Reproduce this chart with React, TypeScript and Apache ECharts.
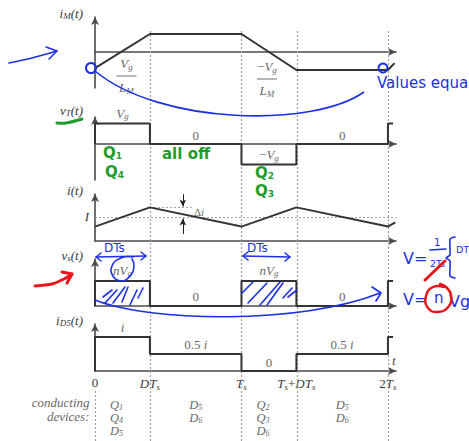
import { useEffect, useRef } from 'react';
import * as echarts from 'echarts';

// Switching period is normalised to 1 (T_s); duty cycle D.
const DUTY = 0.375;
const X_END = 2.055;

const switchTimes = [0, DUTY, 1, 1 + DUTY, 2];
const timeTickLabels = ['{n|0}', '{i|DT}{s|s}', '{i|T}{s|s}', '{i|T}{s|s}{n|+}{i|DT}{s|s}', '{n|2}{i|T}{s|s}'];

// Waveforms, [t / Ts, normalised value]
const magnetizingCurrent = [[0, -0.9], [DUTY, 1], [1, 1], [1 + DUTY, -1], [2, -1], [2.045, -0.62]];
const transformerVoltage = [[0, 0], [0, 1], [DUTY, 1], [DUTY, 0], [1, 0], [1, -1], [1 + DUTY, -1], [1 + DUTY, 0], [2, 0], [2, 1], [2.035, 1]];
const inductorCurrent = [[0, 0.6], [DUTY, 1.4], [1, 0.6], [1 + DUTY, 1.4], [2, 0.6], [2.05, 0.78]];
const secondaryVoltage = [[0, 0], [0, 1], [DUTY, 1], [DUTY, 0], [1, 0], [1, 1], [1 + DUTY, 1], [1 + DUTY, 0], [2, 0], [2, 1], [2.035, 1]];
const diodeCurrent = [[0, 0], [0, 1], [DUTY, 1], [DUTY, 0.5], [1, 0.5], [1, 0], [1 + DUTY, 0], [1 + DUTY, 0.5], [2, 0.5], [2, 1], [2.035, 1]];
const averageCurrent = 1;
const currentPeak = 1.4;

const panelNames = ['{i|i}{s|M}{i|(t)}', '{i|v}{s|T}{i|(t)}', '{i|i(t)}', '{i|v}{s|s}{i|(t)}', '{i|i}{s|D5}{i|(t)}'];

// [interval index, level, text]
const slopeLabels: [number, number, string][] = [
  [0, -1, '{i|V}{s|g}\n{bar|}\n{i|L}{s|M}'],
  [2, -1, '{n|−}{i|V}{s|g}\n{bar|}\n{i|L}{s|M}'],
];
const transformerLabels: [number, number, string][] = [
  [0, 1, '{i|V}{s|g}'], [1, 0, '{n|0}'], [2, -1, '{n|−}{i|V}{s|g}'], [3, 0, '{n|0}'],
];
const secondaryLabels: [number, number, string][] = [
  [0, 1, '{i|nV}{s|g}'], [1, 0, '{n|0}'], [2, 1, '{i|nV}{s|g}'], [3, 0, '{n|0}'],
];
const diodeLabels: [number, number, string][] = [
  [0, 1, '{i|i}'], [1, 0.5, '{n|0.5 }{i|i}'], [2, 0, '{n|0}'], [3, 0.5, '{n|0.5 }{i|i}'],
];
const conductingDevices = [['Q1', 'Q4', 'D5'], ['D5', 'D6'], ['Q2', 'Q3', 'D6'], ['D5', 'D6']];

const SERIF = '"Liberation Serif", "DejaVu Serif", serif';
const HAND = '"DejaVu Sans", sans-serif';
const TEXT = '#3a3a3a';
const WAVE = '#333';
const AXIS = '#4a4a4a';
const DOT = '#a0a0a0';
const BLUE = '#1b2fe4';
const GREEN = '#1f9c2c';
const RED = '#e8161b';

const rich: any = {
  i: { fontFamily: SERIF, fontStyle: 'italic', fontSize: 13, color: TEXT },
  s: { fontFamily: SERIF, fontStyle: 'italic', fontSize: 9, color: TEXT, padding: [6, 0, 0, 0] },
  n: { fontFamily: SERIF, fontSize: 13, color: TEXT },
  bar: { borderColor: '#555', width: 20, borderWidth: 0.6, height: 0 },
  d: { fontFamily: SERIF, fontStyle: 'italic', fontSize: 12.5, color: TEXT, lineHeight: 13 },
  ds: { fontFamily: SERIF, fontStyle: 'italic', fontSize: 8, color: TEXT, padding: [5, 0, 0, 0], lineHeight: 13 },
  c: { fontFamily: SERIF, fontStyle: 'italic', fontSize: 13, color: TEXT, lineHeight: 14, align: 'right' },
};

const panels = [
  { top: 17, height: 71, min: -2, max: 1.944, data: magnetizingCurrent },
  { top: 117, height: 63, min: -1.756, max: 1.317, data: transformerVoltage },
  { top: 194, height: 47, min: 0, max: 1.958, data: inductorCurrent },
  { top: 259, height: 47, min: 0, max: 1.88, data: secondaryVoltage },
  { top: 324, height: 47, min: 0, max: 1.382, data: diodeCurrent },
];

const mid = (k: number) => (switchTimes[k] + switchTimes[k + 1]) / 2;

const hand = (points: number[][], color: string, lineWidth = 2, smooth = 0.3) => ({
  type: 'polyline',
  shape: { points, smooth },
  style: { stroke: color, fill: 'none', lineWidth, lineCap: 'round', lineJoin: 'round' },
  silent: true,
  z: 100,
});
const handText = (x: number, y: number, text: string, color: string, fontSize: number, extra: any = {}) => ({
  type: 'text',
  x,
  y,
  silent: true,
  z: 100,
  style: { text, fill: color, fontSize, fontFamily: HAND, verticalAlign: 'middle', align: 'left', ...extra },
});
const hatch = (segs: number[][]) => segs.map((s) => hand([[s[0], s[1]], [s[2], s[3]]], BLUE, 1.6, 0));
const greenSub = {
  a: { fontSize: 15, fontWeight: 'bold', fontFamily: HAND, fill: GREEN },
  b: { fontSize: 9, fontWeight: 'bold', fontFamily: HAND, fill: GREEN, padding: [6, 0, 0, 0] },
};

function buildOption() {
  const grid: any[] = panels.map((p) => ({ left: 95, right: 73, top: p.top, height: p.height, outerBoundsMode: 'none' }));
  grid.push({ left: 95, right: 73, top: 29, bottom: 0, outerBoundsMode: 'none' });
  grid.push({ left: 95, right: 73, top: 390, bottom: 0, outerBoundsMode: 'none' });

  const arrowLine = { show: true, symbol: ['none', 'arrow'], symbolSize: [6, 8], lineStyle: { color: AXIS, width: 1.6 } };

  const xAxis: any[] = panels.map((_, k) => ({
    type: 'value',
    gridIndex: k,
    min: 0,
    max: X_END,
    axisLine: arrowLine,
    axisTick: { show: false },
    splitLine: { show: false },
    axisLabel:
      k === panels.length - 1
        ? {
            show: true,
            customValues: switchTimes,
            margin: 5,
            color: TEXT,
            rich,
            formatter: (v: number) => timeTickLabels[switchTimes.findIndex((t) => Math.abs(t - v) < 1e-6)] ?? '',
          }
        : { show: false },
    name: k === panels.length - 1 ? 't' : '',
    nameLocation: 'end',
    nameGap: -2,
    nameTextStyle: { fontFamily: SERIF, fontStyle: 'italic', fontSize: 12, color: TEXT, align: 'center', verticalAlign: 'bottom', padding: [0, 0, 4, 0] },
  }));
  for (const gi of [5, 6]) {
    xAxis.push({ type: 'value', gridIndex: gi, min: 0, max: X_END, show: false });
  }

  const yAxis: any[] = panels.map((p, k) => ({
    type: 'value',
    gridIndex: k,
    min: p.min,
    max: p.max,
    axisLine: arrowLine,
    axisTick: { show: false },
    splitLine: { show: false },
    axisLabel:
      k === 2
        ? { show: true, customValues: [averageCurrent], margin: 6, color: TEXT, formatter: () => '{i|I}', rich }
        : { show: false },
    name: panelNames[k],
    nameLocation: 'end',
    nameGap: 0,
    nameTextStyle: { color: TEXT, align: 'right', verticalAlign: 'middle', padding: [0, 12, k === 1 ? 14 : 8, 0], rich },
  }));
  yAxis.push({ type: 'value', gridIndex: 5, min: 0, max: 1, show: false });
  yAxis.push({ type: 'value', gridIndex: 6, min: 0, max: 1, show: false });

  const series: any[] = [];
  panels.forEach((p, k) => {
    series.push({
      type: 'line',
      xAxisIndex: k,
      yAxisIndex: k,
      data: p.data,
      showSymbol: false,
      silent: true,
      z: 5,
      lineStyle: { color: WAVE, width: 2 },
    });
  });

  const labelSeries = (k: number, items: [number, number, string][], label: any) => ({
    type: 'scatter',
    xAxisIndex: k,
    yAxisIndex: k,
    symbolSize: 1,
    silent: true,
    itemStyle: { color: 'transparent' },
    data: items.map(([seg, level, text]) => ({ name: text, value: [mid(seg), level] })),
    label: { show: true, color: TEXT, formatter: (q: any) => q.name, rich, ...label },
    z: 6,
  });

  // slope annotations on the magnetizing current
  series.push({
    ...labelSeries(0, slopeLabels, { position: 'inside', align: 'center', lineHeight: 12 }),
    data: slopeLabels.map(([seg, level, text], j) => ({ name: text, value: [mid(seg), level], label: { offset: [j === 0 ? 4 : -2, j === 0 ? 6 : 9] } })),
  });
  series.push(labelSeries(1, transformerLabels, { position: 'top', distance: 2 }));
  series.push(labelSeries(3, secondaryLabels, { position: 'top', distance: 3 }));
  series.push(labelSeries(4, diodeLabels, { position: 'top', distance: 2 }));

  // inductor current: average line, ripple markers
  series.push({
    type: 'scatter',
    xAxisIndex: 2,
    yAxisIndex: 2,
    symbolSize: 1,
    silent: true,
    itemStyle: { color: 'transparent' },
    data: [{ name: '{n|Δ}{i|i}', value: [0.71, (averageCurrent + currentPeak) / 2] }],
    label: { show: true, color: TEXT, position: 'inside', formatter: (q: any) => q.name, rich: { ...rich, n: { ...rich.n, fontSize: 11 }, i: { ...rich.i, fontSize: 11 } } },
    markLine: {
      silent: true,
      animation: false,
      label: { show: false },
      lineStyle: { color: DOT, type: [2, 2], width: 1 },
      symbol: ['none', 'none'],
      data: [
        [{ coord: [0, averageCurrent] }, { coord: [X_END, averageCurrent] }],
        [{ coord: [DUTY, currentPeak] }, { coord: [0.66, currentPeak] }],
        [
          { coord: [0.6, 1.95], symbol: 'none', lineStyle: { color: '#222', type: 'solid', width: 1 } },
          { coord: [0.6, currentPeak + 0.04], symbol: 'arrow', symbolSize: [5, 7] },
        ],
        [
          { coord: [0.6, 0.29], symbol: 'none', lineStyle: { color: '#222', type: 'solid', width: 1 } },
          { coord: [0.6, averageCurrent - 0.06], symbol: 'arrow', symbolSize: [5, 7] },
        ],
      ],
    },
    z: 2,
  });

  // dotted switching instants across all panels
  series.push({
    type: 'scatter',
    xAxisIndex: 5,
    yAxisIndex: 5,
    data: [],
    silent: true,
    markLine: {
      silent: true,
      animation: false,
      symbol: ['none', 'none'],
      label: { show: false },
      lineStyle: { color: DOT, type: [2, 2], width: 1.2 },
      data: switchTimes.slice(1).map((t) => ({ xAxis: t })),
    },
    z: 1,
  });

  // conducting devices table
  series.push({
    type: 'scatter',
    xAxisIndex: 6,
    yAxisIndex: 6,
    symbolSize: 1,
    silent: true,
    itemStyle: { color: 'transparent' },
    data: [
      ...conductingDevices.map((col, k) => ({
        name: col.map((d) => `{d|${d[0]}}{ds|${d.slice(1)}}`).join('\n'),
        value: [mid(k) - (col.length === 3 ? 0.04 : 0), 0.84],
      })),
      { name: '{c|conducting}\n{c|devices:}', value: [0, 0.61], label: { position: 'left', distance: 5, align: 'right' } },
    ],
    label: { show: true, color: TEXT, position: 'bottom', distance: 0, formatter: (q: any) => q.name, rich, align: 'center' },
    markLine: {
      silent: true,
      animation: false,
      symbol: ['none', 'none'],
      label: { show: false },
      lineStyle: { color: DOT, type: [2, 2], width: 1.2 },
      data: [{ xAxis: 0 }],
    },
    z: 2,
  });

  // handwritten notes
  const graphic: any[] = [
    // blue
    hand([[9, 63], [32, 58], [57, 51]], BLUE, 1.5),
    hand([[46, 47], [57, 51], [49, 59]], BLUE, 1.5, 0),
    { type: 'circle', shape: { cx: 91, cy: 68, r: 5 }, style: { stroke: BLUE, fill: 'none', lineWidth: 2 }, silent: true, z: 100 },
    { type: 'bezierCurve', shape: { x1: 95, y1: 71, cpx1: 160, cpy1: 125, cpx2: 313, cpy2: 128, x2: 364, y2: 92 }, style: { stroke: BLUE, fill: 'none', lineWidth: 1.6 }, silent: true, z: 100 },
    { type: 'circle', shape: { cx: 383, cy: 68, r: 4.5 }, style: { stroke: BLUE, fill: 'none', lineWidth: 2 }, silent: true, z: 100 },
    handText(377, 83, 'Values equa', BLUE, 15),
    handText(104, 248, 'DTs', BLUE, 12),
    handText(247, 248, 'DTs', BLUE, 12),
    hand([[96, 257], [146, 256]], BLUE, 1.5, 0),
    hand([[101, 253], [96, 257], [101, 261]], BLUE, 1.5, 0),
    hand([[141, 252], [146, 256], [141, 260]], BLUE, 1.5, 0),
    hand([[243, 256], [290, 257]], BLUE, 1.5, 0),
    hand([[248, 252], [243, 256], [248, 260]], BLUE, 1.5, 0),
    hand([[285, 253], [290, 257], [285, 261]], BLUE, 1.5, 0),
    hand([[133, 257], [121, 258], [112, 266], [113, 276], [121, 281], [130, 276], [134, 266], [132, 259]], BLUE, 1.6, 0.5),
    ...hatch([[103, 297, 112, 290], [105, 303, 117, 290], [113, 303, 125, 287], [122, 302, 128, 287], [130, 305, 137, 290], [138, 298, 143, 288]]),
    ...hatch([[242, 293, 253, 282], [248, 303, 267, 283], [260, 305, 280, 282], [267, 305, 283, 283], [283, 298, 292, 288], [288, 297, 297, 290]]),
    { type: 'bezierCurve', shape: { x1: 95, y1: 300, cpx1: 150, cpy1: 322, cpx2: 300, cpy2: 325, x2: 380, y2: 293 }, style: { stroke: BLUE, fill: 'none', lineWidth: 1.6 }, silent: true, z: 100 },
    hand([[372, 287], [381, 293], [376, 301]], BLUE, 1.6, 0),
    handText(403, 258, 'V=', BLUE, 16),
    handText(434, 242, '1', BLUE, 10),
    hand([[430, 250], [446, 249]], BLUE, 1.5, 0),
    handText(430, 263, '2Ts', BLUE, 9.5),
    hand([[455, 237], [450, 239], [450, 255], [446, 258], [450, 261], [450, 276], [455, 278]], BLUE, 1.6, 0.2),
    handText(456, 249, 'DT', BLUE, 9.5),
    handText(403, 299, 'V=', BLUE, 16),
    handText(434, 298, 'n', BLUE, 15),
    handText(449, 301, 'Vg', BLUE, 16),
    // red
    hand([[35, 286], [52, 284], [64, 279], [72, 274]], RED, 3),
    hand([[62, 272], [72, 274], [67, 283]], RED, 3, 0),
    hand([[425, 280], [445, 261]], RED, 3, 0),
    hand([[444, 287], [433, 287], [426, 296], [428, 308], [438, 312], [449, 306], [451, 295], [446, 287], [440, 284]], RED, 2.5, 0.5),
    // green
    hand([[57, 123], [66, 123], [82, 119]], GREEN, 3),
    handText(103, 153, '{a|Q}{b|1}', GREEN, 14, { rich: greenSub }),
    handText(105, 172, '{a|Q}{b|4}', GREEN, 14, { rich: greenSub }),
    handText(162, 154, 'all off', GREEN, 15, { fontWeight: 'bold' }),
    handText(255, 173, '{a|Q}{b|2}', GREEN, 14, { rich: greenSub }),
    handText(255, 191, '{a|Q}{b|3}', GREEN, 14, { rich: greenSub }),
  ];

  return {
    animation: false,
    backgroundColor: '#ffffff',
    grid,
    xAxis,
    yAxis,
    series,
    graphic,
  };
}

export default function App() {
  const ref = useRef<HTMLDivElement>(null);
  useEffect(() => {
    if (!ref.current) return;
    const chart = echarts.init(ref.current, undefined, { renderer: 'svg' });
    chart.setOption(buildOption() as any);
    return () => chart.dispose();
  }, []);
  return <div ref={ref} style={{ position: 'absolute', left: 0, top: 0, width: 469, height: 441, background: '#fff' }} />;
}
